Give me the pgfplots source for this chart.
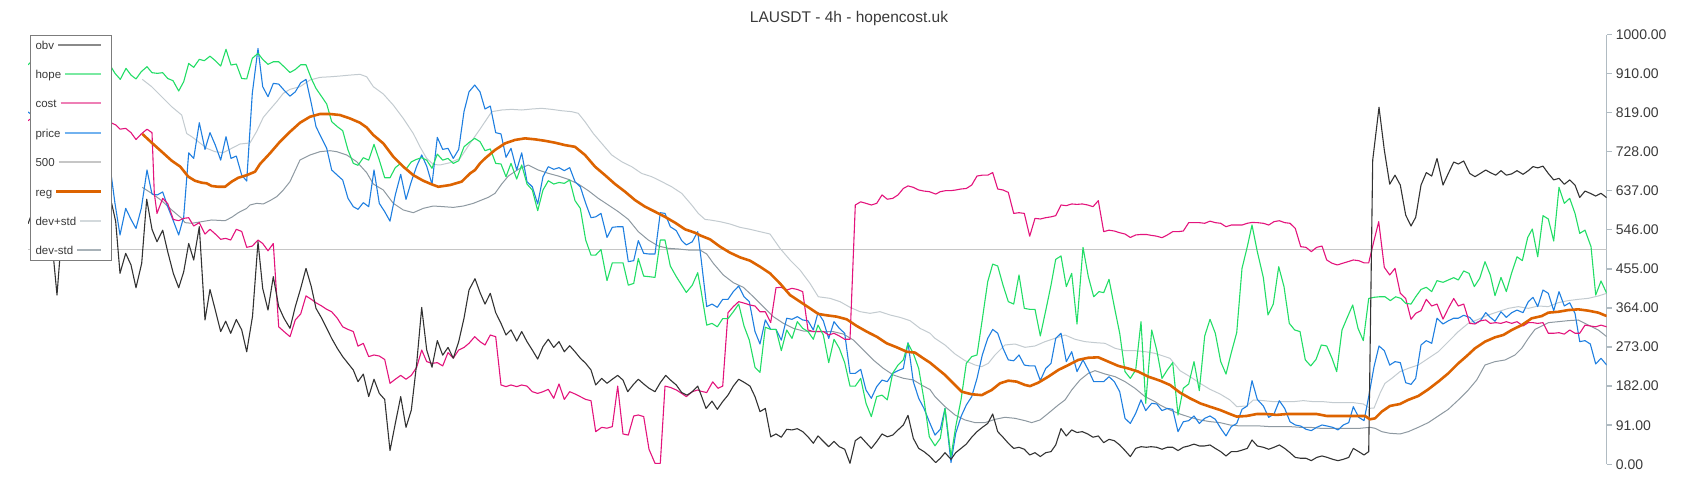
\documentclass[border=0pt]{standalone}
\usepackage{pgfplots}
\pgfplotsset{compat=1.18}
\usepackage{fontspec}
\setmainfont{Liberation Sans}
\definecolor{obvc}{HTML}{333333}
\definecolor{hopec}{HTML}{22DD66}
\definecolor{costc}{HTML}{E3147C}
\definecolor{pricec}{HTML}{1F7FE0}
\definecolor{regc}{HTML}{DD6300}
\definecolor{bandhi}{HTML}{C3CBD0}
\definecolor{bandlo}{HTML}{8E99A1}
\definecolor{fivec}{HTML}{C6C6C6}
\definecolor{obvL}{HTML}{8A8A8A}
\definecolor{hopeL}{HTML}{7AE9A2}
\definecolor{costL}{HTML}{EE7FB5}
\definecolor{priceL}{HTML}{72B2EF}
\definecolor{hiL}{HTML}{D3D9DC}
\definecolor{loL}{HTML}{A8B2B8}
\definecolor{axisc}{HTML}{B0BBC2}
\definecolor{textc}{HTML}{3A3A3A}
\definecolor{legbord}{HTML}{7C7C7C}
\newcommand\legrow[4]{\hbox to 71pt{#1\hskip 4pt{\color{#2}\leaders\hrule height #3 depth #4\hfill}\hskip 5.3pt}}
\begin{document}
\begin{tikzpicture}
\path (0pt,0pt) rectangle (1700pt,500pt);
\begin{axis}[
  at={(28pt,35.7pt)}, anchor=south west,
  width=1578.7pt, height=429.6pt, scale only axis,
  xmin=28, xmax=1606.7, ymin=0, ymax=1000,
  axis x line=none, xtick=\empty,
  axis y line*=right,
  ytick={0,91,182,273,364,455,546,637,728,819,910,1000},
  y axis line style={draw=axisc, line width=1.5pt},
  ytick style={draw=axisc, line width=1.5pt},
  tick align=outside, major tick length=5pt,
  scaled y ticks=false,
  yticklabel style={font=\fontsize{14}{16}\selectfont, text=textc, inner sep=0pt, anchor=west, xshift=4pt,
    /pgf/number format/fixed, /pgf/number format/fixed zerofill, /pgf/number format/precision=2,
    /pgf/number format/1000 sep={}, /pgf/number format/assume math mode=true},
  every axis plot/.append style={line join=round},
]
% 500 line
\addplot[fivec, line width=1.6pt] coordinates {(28,500) (1606.7,500)};
% dev+std
\addplot[bandhi, line width=1pt] coordinates {
(142.3,896) (151.7,879) (161.7,855.7) (171.7,832.4) (181.7,813) (186.7,770) (191.7,762.6) (198.3,751) (206.7,735.5) (215,727.7) (223.3,725.4) (231.7,735.5) (240,745.5) (250,748) (256.7,775) (263.3,807.6) (270,826) (276.7,844) (283.3,863.5) (290,872.8) (300,879) (310,894.5) (320,900.7) (330,902) (340,903.8) (350,906) (360,907.7) (366.7,902) (373.3,879) (383.3,862) (393.3,836) (403.3,805) (413.3,770) (420,739) (426.7,712) (433.3,698) (440,696.7) (450,702) (460,712) (470,747) (480,780) (491.7,820.8) (501.7,824.7) (511.7,826.2) (521.7,824.7) (531.7,827) (541.7,828.6) (551.7,826.2) (561.7,823) (571.7,820.8) (578.3,817) (585,797.5) (593.3,770) (601.7,747) (611.7,720) (621.7,704.4) (631.7,692.8) (641.7,677) (651.7,669.5) (661.7,658) (671.7,646) (681.7,630.7) (691.7,603.6) (698.3,584) (705,570) (710,568.7) (720,564.8) (730,559.3) (740,551.6) (750,547) (760,541.5) (770,536) (780,502.7) (790,475.6) (800,452.3) (810,421) (818.3,390) (830,386.3) (840,378.6) (850,365.4) (860,355.3) (870,351.4) (880,355.3) (890,347.6) (900,342) (910,334.4) (920,316.5) (930,305) (935,293.2) (945,277.7) (955,256.8) (965,241.3) (975,231.2) (981.7,227.3) (988.3,235) (995,254.5) (1005,277.7) (1015,280) (1025,272.3) (1035,275.4) (1045,285.5) (1055,293.2) (1065,301) (1075,291) (1085,285.5) (1095,283.2) (1105,281.6) (1115,270) (1125,264.5) (1135,264.5) (1145,262.2) (1155,258.3) (1160,254.5) (1170,246.7) (1180,218) (1190,204) (1200,188.5) (1210,174.5) (1220,163.7) (1230,149.7) (1236.7,134.2) (1246.7,135.8) (1253.3,149.7) (1263.3,148.2) (1273.3,145.8) (1283.3,145.8) (1293.3,145.8) (1303.3,148.2) (1313.3,145.8) (1323.3,145.8) (1333.3,143.5) (1343.3,143.5) (1353.3,143.5) (1363.3,140.4) (1370,130.3) (1374,131) (1380,165.2) (1385,188.5) (1391.7,200) (1400,215.7) (1408.3,223.4) (1418.3,231.2) (1428.3,246.7) (1438.3,262.2) (1448.3,285.5) (1458.3,308.8) (1468.3,328.2) (1478.3,337.5) (1488.3,347.6) (1498.3,355.3) (1508.3,363) (1518.3,367) (1528.3,363) (1538.3,368.5) (1548.3,367) (1558.3,376.3) (1568.3,381) (1578.3,384) (1588.3,386.3) (1598.3,391.8) (1606.7,398)};
% dev-std
\addplot[bandlo, line width=1pt] coordinates {
(142.3,644.7) (151.7,630.7) (161.7,613.7) (171.7,592) (181.7,572.5) (185,562.5) (191.7,561) (201.7,564.8) (211.7,568.7) (225,567) (231.7,574.9) (238.3,585.7) (246.7,595.8) (250,603.6) (256.7,607.4) (263.3,606) (270,613.7) (276.7,623) (283.3,638.5) (290,658) (300,708.3) (310,720) (320,727.7) (330,730) (336.7,727.7) (346.7,720) (356.7,704.4) (366.7,678.8) (373.3,652.4) (383.3,638.5) (393.3,607.4) (403.3,592) (413.3,585.7) (423.3,595.8) (433.3,601.2) (443.3,599.7) (453.3,598) (463.3,601.2) (473.3,607.4) (481.7,615.2) (488.3,621.4) (495,630.7) (501.7,652.4) (508.3,671) (518.3,686.6) (528.3,696.7) (538.3,685) (548.3,677.3) (558.3,671) (568.3,663.3) (578.3,652.4) (588.3,637) (598.3,619) (608.3,603.6) (618.3,588) (628.3,570.2) (638.3,541.5) (648.3,522) (658.3,508.1) (668.3,502.7) (678.3,501.2) (688.3,498.8) (700,498.8) (706.7,489.5) (713.3,467.8) (723.3,440.7) (733.3,422.8) (743.3,412) (753.3,390.2) (763.3,367) (773.3,343.7) (783.3,328.2) (793.3,316.5) (803.3,310.3) (813.3,308.8) (823.3,308.8) (833.3,308.8) (843.3,303.3) (853.3,289.4) (863.3,266.1) (873.3,242.8) (883.3,223.4) (893.3,207.9) (903.3,200.2) (913.3,196.3) (923.3,182.3) (930,174) (935,157.5) (945,134.2) (955,114.8) (965,103.2) (975,97) (985,97) (995,104.7) (1005,109.4) (1015,107) (1025,101.6) (1031.7,97) (1040,103.2) (1048.3,118.7) (1058.3,138.1) (1065,149.7) (1071.7,173) (1080,196.3) (1088.3,211.8) (1095,218) (1105,210.2) (1115,204) (1125,192.4) (1135,176.9) (1145,157.5) (1155,145.8) (1160,138.1) (1170,126.5) (1180,117.1) (1190,109.4) (1200,103.2) (1210,99.3) (1220,97) (1230,91.5) (1240,89.2) (1250,89.2) (1260,89.2) (1270,87.7) (1280,87.7) (1290,87.7) (1300,86.1) (1310,86.1) (1320,83.8) (1330,83.8) (1340,83.8) (1350,83.8) (1360,83.8) (1370,86.1) (1375,83.8) (1381.7,76) (1390,72.1) (1400,70.6) (1408.3,76) (1418.3,86.1) (1428.3,97) (1438.3,112.5) (1448.3,128) (1458.3,149.7) (1468.3,173) (1476.7,196.3) (1485,231.2) (1495,239) (1505,242.8) (1515,254.5) (1521.7,270) (1528.3,293.2) (1535,314.2) (1541.7,322) (1548.3,329.7) (1558.3,332) (1568.3,334.4) (1578.3,335.9) (1588.3,324.3) (1598.3,312.6) (1606.7,297.1)};
% price
\addplot[pricec, line width=1.1pt] coordinates {
(28,820) (33,812) (38,790) (43,800) (48,770) (53,780) (58,745) (63,760) (68,730) (73,745) (78,715) (83,735) (88,700) (93,720) (98,690) (103,705) (108,690) (111,677) (115,607) (120,533.8) (125.7,595.8) (131,570) (136,549) (141.3,595.8) (147,685) (152,629) (157.3,627) (162.7,634) (167.7,599.7) (173,568.7) (178.7,533.8) (183.7,576) (188.7,725) (193.7,712) (199.3,795) (205,733) (210,772) (215.3,743) (220.7,708) (226,762.6) (231,712) (236.3,717.6) (241.7,673) (246.7,659.4) (252.3,863.5) (258,968) (262.7,879) (268,855.7) (273.3,886.7) (278.7,885) (284,871) (290,857) (295.3,867) (300.7,888) (306,896) (311.3,840) (316,786) (321.7,758.7) (326.7,735.5) (331.7,685) (337.3,673) (342.7,661.7) (348,619) (353.3,599.7) (358,593.5) (363.3,609) (368.7,599.7) (374,685) (379.3,607.4) (384.7,588) (390,566) (395.3,627) (400.7,675) (406,616.7) (411.3,658) (416.7,694) (421.7,720) (426.7,694) (432,651.7) (437.3,761) (442.7,733) (448,735.5) (453.3,712) (458.7,733) (464,820.8) (469,867) (474.7,882.8) (480,867) (485,827) (490.3,834) (495.7,772) (501,769) (506,714.5) (511,735.5) (516.7,685) (521.7,725) (527,658) (532.3,646) (537.7,606) (543,669.5) (548.3,692.8) (553.7,686.6) (559,690.5) (564.3,683.5) (569.7,690.5) (575,658) (580.3,646) (585.7,607.4) (591,574) (595.7,576) (601,584) (607,528) (612.3,551.6) (617.7,553) (623,553) (628.3,471.7) (633.7,474) (638.3,520.6) (643.7,491) (649,489.5) (655,489.5) (660.3,585.7) (665,584) (670.3,553) (676.3,543.8) (681.7,520.6) (686.3,510.5) (692.3,518) (697.7,541.5) (701,480) (706.7,367) (712,373) (717.3,365.4) (722.7,384) (728,384) (733.3,401.9) (738.7,415) (744,390) (749.3,378.6) (755,309) (760,280) (765.3,336) (770.7,314) (776,314) (781.3,289) (786.7,340) (792,337.5) (797.3,343.7) (802.7,336) (808,334) (813.3,312.6) (818,353) (823.3,334) (828.7,293) (834,332) (839.3,316.5) (844.7,305) (850,211.7) (855.3,211.7) (860.7,221) (866,173) (871.3,153.6) (876.7,180.8) (882,196) (887.3,192.4) (892.7,211.7) (898,218) (903.3,223) (908,283) (913.3,192.4) (918.7,153.6) (924,130) (929.3,99) (935,68) (940.3,81.5) (945,130) (951,4) (955.7,72) (961,111) (966.3,138) (971.7,157.5) (977,200) (982.3,254.5) (987.7,293) (992.7,314) (997.7,305) (1003,270) (1008.3,243) (1013.7,241) (1019,254.5) (1024.3,231) (1029.7,229) (1035,229) (1040.3,195) (1045.7,223) (1051,235) (1055.7,293) (1061,305) (1066.3,239) (1071.7,262) (1077,215.7) (1083,243) (1088.3,219.5) (1093.7,192.4) (1099,192.4) (1103.7,192.4) (1109,204) (1114.3,192.4) (1119.7,169) (1125,107) (1130.3,95) (1135.7,118.7) (1141,150) (1145.7,125) (1151.7,142) (1156.7,140.4) (1162,125) (1167.3,130) (1172.7,128) (1178,76) (1183.3,99) (1188.7,101.6) (1194,112.5) (1199.3,95) (1204.7,107) (1210,112.5) (1215.3,104.7) (1220.7,83.8) (1226,66) (1231.3,87.7) (1236.7,95) (1242,128) (1247.3,135.8) (1252,194.7) (1257.3,151) (1263.3,135.8) (1268.7,109.4) (1274,117) (1279.3,148) (1284.7,130) (1290,99) (1295.3,91.5) (1300.7,89) (1306,81.5) (1311.3,78.4) (1316.7,86) (1322,91.5) (1327.3,89) (1332.7,86) (1338,80) (1343.3,91.5) (1348.7,97) (1353.3,134) (1358.7,109.4) (1364,101.6) (1368.7,157.5) (1374,227) (1379,275.4) (1384.3,264.5) (1389.7,231) (1395,239) (1400.3,236.6) (1405.7,190) (1411,186) (1415.7,200) (1421,277.7) (1426.3,287.8) (1431.7,281.6) (1437,340) (1443,326.6) (1448.3,334) (1453.7,340) (1458.3,340) (1463.7,346.8) (1469.7,342) (1475,328) (1480.3,334) (1485.7,353) (1490.3,342) (1495,333) (1501,355) (1506.3,342) (1511.7,353) (1517,359) (1523,353) (1528.3,378.6) (1533,388.7) (1537.7,367) (1543,405.7) (1548.3,398) (1553.7,357.6) (1559,401.9) (1564.3,368.5) (1569.7,376) (1575,351.4) (1579.7,285.5) (1585,287.8) (1590.3,280) (1595.7,233.5) (1601,246.7) (1606.7,231)};
% cost
\addplot[costc, line width=1.1pt] coordinates {
(28,800) (35,810) (40,795) (45,805) (50,790) (55,800) (60,785) (65,795) (70,780) (75,790) (80,785) (85,795) (90,780) (95,790) (100,785) (105,800) (111,795) (115.7,790) (120,780) (125.7,782) (131,772) (136,756) (141.3,769) (147,780) (152,772) (154.3,631) (157,584) (162.7,619) (167.7,607) (173.3,570) (178.7,567) (183.7,572.5) (188.7,574) (193.7,554.7) (199.3,562.5) (205,536) (210,547) (215.3,536) (220.7,523.7) (225.7,526) (230.7,522) (236.3,547) (241.7,542) (246.7,505) (252.3,508) (258,522) (262.7,514) (268,497) (273.3,514) (278.7,320) (284,309) (290,297) (295.3,336) (300.7,350) (306,392) (311.3,384) (316,376) (321.7,368.5) (326.7,360.7) (331.7,355) (337.3,340) (342.7,320) (348,314) (353.3,309) (358,275) (363.3,281.6) (368.7,250.6) (374,254.5) (379.3,252) (384.7,244) (390,188.5) (395.3,198) (400.7,207) (406,198) (411.3,207) (416.7,226) (421.7,266) (426.7,239) (432,235) (437.3,236.6) (442.7,229) (448,260) (453.3,247) (458.7,266) (464,272) (469,281.6) (474.7,297) (480,285.5) (485,277.7) (490.3,301) (495.7,297) (501,184.6) (506,180.8) (511,184.6) (516.7,180.8) (521.7,184.6) (527,182) (532.3,169) (537.7,165) (543,169) (548.3,174.5) (553.7,153.6) (559,187) (564.3,151) (569.7,169) (575,163.7) (580.3,157.5) (585.7,151) (591,148) (595.7,76) (601.7,86) (607,84) (612.3,87.7) (617.7,182) (623,70.6) (628.3,68) (633.7,112.5) (638.3,114.8) (643.7,111) (649,35) (655,2.3) (660.3,2.3) (665,182) (670.3,179) (676.3,173) (681.7,165) (686.3,157.5) (692.3,169) (697.7,173) (701,170) (706.7,167) (712.7,192) (718,177) (722.7,182) (728,353) (733.3,367) (738.7,378.6) (744.7,374.7) (750,370.8) (755,368.5) (760,355) (765.3,355) (770.7,330) (776,411) (781.3,412) (786.7,405.7) (792,409.6) (797.3,407) (802.7,401.9) (808,312.6) (813.3,309) (818,309) (823.3,309) (828.7,301) (834,305) (839.3,298.7) (844.7,291) (850,291) (855.3,603.6) (860.7,611) (866,607.4) (871.3,603.6) (876.7,607.4) (882,627) (887.3,617) (892.7,619) (898,627) (903.3,642) (908,648) (913.3,644.7) (918.7,638.5) (924,636) (929.3,634.6) (935.7,629) (940.3,634.6) (945.7,637) (951,637) (955.7,638.5) (961,640.8) (966.3,642) (971.7,650) (977,671) (982.3,673) (987.7,673) (992.7,679) (997.7,640.8) (1003,638.5) (1008.3,633) (1013.7,584) (1019,585.7) (1024.3,584) (1029.7,531) (1035,572.5) (1040.3,571) (1045.7,574) (1051,576) (1055.7,578.7) (1061,603.6) (1066.3,602) (1071.7,606) (1077,605) (1082.3,606) (1087.7,603.6) (1093,599.7) (1098.3,613.7) (1103.7,541.5) (1109,545) (1114.3,543) (1119.7,539) (1125,536) (1130.3,528) (1135.7,533.8) (1141,535) (1146.3,535) (1151,533) (1156.7,531) (1162,527.5) (1167.3,533.8) (1172.7,541.5) (1178,541.5) (1183.3,543) (1188.7,562.5) (1194,562.5) (1199.3,562.5) (1204.7,561) (1210,566) (1215.3,562.5) (1220.7,561) (1226,553) (1231.3,557) (1236.7,557) (1242,557) (1247.3,561) (1252,563) (1257.3,562.5) (1263.3,561) (1268.7,557) (1274,564.8) (1279.3,567) (1284.7,562.5) (1290,561) (1295.3,549) (1300.7,506.6) (1306,505) (1311.3,495) (1316.7,505) (1322,508) (1326.7,475.6) (1332,468) (1337.3,464) (1342.7,468) (1348,471.7) (1353.3,475.6) (1358.7,474) (1364,469) (1368.7,469) (1373.3,514) (1378.7,564.8) (1384.3,458.5) (1389.7,440.7) (1395,456) (1400.3,398) (1405.7,386) (1411,337.5) (1415.7,351.4) (1421,357.6) (1426.3,384) (1431.7,368.5) (1437,373) (1443,338) (1448.3,363) (1453.7,386) (1458.3,368.5) (1463.7,373) (1469.7,328) (1475,326.6) (1480.3,334) (1485.7,336) (1490.3,328) (1495.7,329.7) (1501,328) (1506.3,332) (1511.7,328) (1517,332) (1523,322) (1528.3,329.7) (1533,329.7) (1537.7,328) (1543,329.7) (1548.3,305) (1553.7,305) (1559,306.4) (1564.3,303) (1569.7,312.6) (1575,305) (1579.7,305) (1585,324) (1590.3,322) (1595.7,320) (1601,324) (1606.7,320)};
% hope
\addplot[hopec, line width=1.1pt] coordinates {
(28,930) (35,945) (40,925) (45,940) (50,915) (55,930) (60,910) (65,925) (70,940) (75,920) (80,935) (85,915) (90,930) (95,920) (100,940) (105,930) (111,925.5) (115,910) (120.3,896) (126,921.6) (131,906) (136,897) (141.3,914) (147,925.5) (152,911.6) (157.3,910) (162.7,911.6) (167.7,898) (173,893) (178.7,869) (183.7,890.6) (188.7,933) (193.7,924) (199.3,942.6) (204.3,939.5) (210,950) (215.3,939.5) (220.7,927) (226,966) (231,929.4) (236.3,931.7) (241.7,898) (246.7,897) (252.3,945) (258,956.6) (262.7,942.6) (268,931) (273.3,937) (278.7,937) (284,925.5) (290,912) (295.3,919) (300.7,930) (306,930) (311.3,898) (316,875) (321.7,855.7) (326.7,838.6) (331.7,797.5) (337.3,786) (342.7,776.6) (348,731.6) (353.3,700.5) (358,696) (363.3,713.7) (368.7,708) (374,744.8) (379.3,708) (384.7,667) (390,667) (395.3,690.5) (400.7,700.5) (406,687) (411.3,704) (416.7,710) (421.7,713.7) (426.7,708) (432,689) (437.3,722) (442.7,708) (448,712) (453.3,700.5) (458.7,706.7) (464,739) (469,749) (474.7,758.7) (480,751) (485,730) (490.3,734) (495.7,700.5) (501,699) (506,669.5) (511,700.5) (516.7,664) (521.7,696.7) (527,652.4) (532.3,638.5) (537.7,590.4) (543,638.5) (548.3,660) (553.7,652.4) (559,656) (564.3,654) (569.7,661.7) (575,613.7) (580.3,595.8) (585.7,522) (591,487) (595.7,487) (601,500) (607,427.5) (612.3,469) (617.7,469) (623,469) (628.3,417) (633.7,421) (638.3,479) (643.7,438) (649,436.8) (655,435) (660.3,522) (665,522) (670.3,461.6) (676.3,436.8) (681.7,417) (686.3,400) (692.3,417) (697.7,446) (701,405) (706.7,324) (712,328) (717.3,320) (722.7,339) (728,339) (733.3,355) (738.7,373) (744,322) (749.3,289) (755,225.8) (760,214) (765.3,319) (770.7,314) (776,314) (781.3,264.5) (786.7,312.6) (792,293) (797.3,332) (802.7,316.5) (808,309) (813.3,291) (818,324) (823.3,301) (828.7,236.6) (834,291) (839.3,270) (844.7,236.6) (850,182) (855.3,182) (860.7,200) (866,142) (871.3,111) (876.7,157.5) (882,161) (887.3,150) (892.7,212) (898,231) (903.3,243) (908,281.6) (913.3,258) (918.7,223) (924,150) (929.3,64) (935,43) (940.3,60.5) (945,130) (951,18) (955.7,87.7) (961,150) (966.3,235) (971.7,250.6) (977,254.5) (982.3,337.5) (987.7,425) (992.7,466) (997.7,461.6) (1003,417) (1008.3,378.6) (1013.7,373) (1019,440.7) (1024.3,363) (1029.7,360.7) (1035,360.7) (1040.3,298.7) (1045.7,357.6) (1051,417) (1055.7,477) (1061,485) (1066.3,413.5) (1071.7,444.5) (1077,326.6) (1083,505) (1088.3,436.8) (1093.7,390) (1099,401.9) (1103.7,399.5) (1109,430.6) (1114.3,367) (1119.7,305) (1125,215.7) (1130.3,200) (1135.7,219.5) (1141,332) (1145.7,142) (1151.7,312.6) (1156.7,266) (1162,200) (1167.3,219.5) (1172.7,236.6) (1178,114.8) (1183.3,177) (1188.7,187) (1194,239) (1199.3,171.4) (1204.7,298.7) (1210,337.5) (1215.3,305) (1220.7,239) (1226,210) (1231.3,260) (1236.7,306.4) (1242,456) (1247.3,506.6) (1252,557) (1257.3,495) (1263.3,435) (1268,347.6) (1273.3,373) (1278.7,460) (1284,413.5) (1289.3,328) (1294.7,312.6) (1300,309) (1305.3,243) (1310.7,229) (1316,244) (1321.3,277.7) (1326.7,275.4) (1332,246.7) (1336.7,215.7) (1342,312.6) (1347.3,342) (1352.7,370.8) (1358,316.5) (1363.3,287.8) (1368.7,386) (1374,388.7) (1379.7,390) (1385,390) (1390.3,381) (1395.7,390) (1401,386) (1405.7,374.7) (1411,373) (1415.7,390) (1421,407) (1426.3,412) (1431.7,402) (1437,427.5) (1443,423.6) (1448.3,429) (1453.7,434.4) (1458.3,429) (1463.7,450) (1469,444.5) (1474.3,413.5) (1479.7,433) (1485,471.7) (1490.3,440.7) (1495,392.5) (1501,435) (1506.3,402) (1511.7,446) (1517,483) (1522.3,474) (1527.7,528) (1532.3,547.7) (1537.7,483) (1543,578.7) (1548.3,571) (1553.7,519.8) (1559,644.7) (1564.3,607.4) (1569.7,619) (1575,584) (1579.7,537.6) (1585,545) (1591,506.6) (1595.7,394) (1601,426.7) (1606.7,398)};
% obv
\addplot[obvc, line width=1.1pt] coordinates {
(28,560) (33,590) (38,545) (43,580) (48,520) (53.7,475.6) (57,394) (59.7,475.6) (65,560) (70,600) (75,540) (80,620) (85,570) (90,640) (95,590) (100,620) (105,580) (111.7,607) (115.7,565) (120,444.5) (125.7,491) (131,464) (136,411) (141.7,468) (146.7,617) (152,547) (157,518) (162.7,545) (167.7,495) (173.3,444.5) (178.7,411) (183.7,448) (188.7,514) (193.7,475.6) (199.3,553) (205,336) (210,407) (215.3,359) (220.7,309) (225.7,333) (230.7,305) (236.3,337) (241.7,313) (246.7,262) (252.5,344) (258,518) (262.7,409.6) (268,359) (273.3,436.8) (278.7,367) (284,340) (290,316.5) (295.3,367) (300.7,409.6) (306,456) (311.3,413.5) (316,363) (321.7,340) (326.7,316.5) (331.7,293) (337.3,270) (342.7,250.6) (348,235) (353.3,219.5) (358,192.4) (363.3,210) (368.7,157.6) (374,198) (379.3,165) (384.7,151) (390,32) (395.3,95) (400.7,157.6) (406,86) (411.3,126) (416.7,235) (421.7,365) (426.7,266) (432,226) (437.3,288) (442.7,254) (448,272) (453.3,247) (458.7,285.5) (464,340) (469,405.7) (475,432) (480,400) (485,373) (490.3,398) (495.7,353) (501,328) (506,301) (511,313) (516.7,287) (521.7,309) (527,285.5) (532.3,266) (537.7,245) (543,274) (548.3,291) (553.7,272) (559,285.5) (564.3,262) (569.7,276) (575,262) (580.3,247) (585.7,235) (591,219.5) (595.7,184.6) (601.7,200) (607,188.5) (612.3,198) (617.7,207) (623,196) (627.7,169) (633,184.6) (638.3,198) (643.7,187) (649,177) (655,169) (660.3,190) (665.7,207) (671,195) (676.3,184.6) (681.7,167) (687,161) (692.3,169) (697.7,182) (701,162) (706,130) (712,147) (717.3,128) (722.7,146) (728,161) (733.3,182) (738.7,198) (744.7,190) (750,182) (755,157.5) (760,122.6) (765.3,130) (770.7,64) (776,70.6) (781.3,63) (786.7,81.5) (792,80) (797.3,83) (802.7,76) (808,64) (813.3,49) (818,66) (823.3,53.5) (828.7,41) (834,53.5) (839.3,41) (844.7,35) (850,2.3) (855.3,55) (860.7,64) (866,50.4) (871.3,37) (876.7,53) (882,70.6) (887.3,64) (892.7,68) (898,80) (903.3,91.5) (908,114) (913.3,60.5) (918.7,37) (924,29.5) (929.3,19.4) (935.7,4) (940.3,14) (945,27) (951,11.6) (955.7,27) (961,37) (966.3,47) (971.7,63) (977,76) (982.3,86) (987.7,95) (992.7,117) (997.7,76) (1003,63) (1008.3,49) (1013.7,37) (1019,39.6) (1024.3,35) (1029.7,21.7) (1035,27) (1040.3,18) (1045.7,27) (1051,29.5) (1055.7,45) (1061,83) (1066.3,66) (1071.7,80) (1077,74) (1082.3,76) (1087.7,70.6) (1093,63) (1098.3,66) (1103.7,50.4) (1109,58) (1114.3,55) (1119.7,45) (1125,32) (1130.3,18) (1135.7,37) (1141,41) (1146.3,39.6) (1151,41) (1156.7,39.6) (1162,35) (1167.3,39.6) (1172.7,39.6) (1178,32) (1183.3,39.6) (1188.7,42.7) (1194,47) (1199.3,42.7) (1204.7,42.7) (1210,45) (1215.3,37) (1220.7,29.5) (1226,19.4) (1231.3,29.5) (1236.7,29.5) (1242,33) (1247.3,37) (1252,56.6) (1257.3,42.7) (1263.3,39.6) (1268.7,35) (1274,39.6) (1279.3,45) (1284.7,37) (1290,27) (1295.3,16) (1300.7,14) (1306,14) (1311.3,8.5) (1316.7,16) (1322,19.4) (1327.3,16) (1332.7,11.6) (1338,8.5) (1343.3,11.6) (1348.7,16) (1353.3,37) (1358.7,29.5) (1364,21.7) (1368.7,29.5) (1372.7,708) (1379,831) (1384.3,731.6) (1389.7,652) (1395,673) (1400.3,650) (1405.7,580) (1411,554.7) (1415.7,575) (1421,650) (1426.3,679) (1431.7,671) (1437,712) (1443,650) (1448.3,677) (1453.7,703.6) (1458.3,699) (1463.7,706) (1469.7,677) (1475,669.5) (1480.3,677) (1485.7,685) (1490.3,679) (1495.7,673) (1501,683.5) (1506.3,673) (1511.7,676) (1517,683.5) (1523,675) (1528.3,683.5) (1533,693) (1537.7,690) (1543,694) (1548.3,677) (1553.7,662) (1559,665.6) (1564.3,651.7) (1569.7,662) (1575,650) (1579.7,621) (1585,636) (1590.3,630.7) (1595.7,624.5) (1601,630.7) (1606.7,620.6)};
% reg
\addplot[regc, line width=2.6pt] coordinates {
(142.3,769) (151.7,748.6) (161.7,727.7) (171.7,706.7) (180.3,692.8) (188.3,669.5) (195,660) (201.7,655.5) (206.7,654) (211.7,647.8) (218.3,646) (225,646) (231.7,658) (238.3,667) (246.7,673) (255,681) (260,699) (270,724) (280,751) (290,774) (300,795) (310,809) (320,815.4) (330,815.4) (340,813) (350,805) (360,795) (366.7,784) (373.3,766.5) (383.3,747) (393.3,716) (403.3,692.8) (413.3,673) (423.3,660) (431.7,651.7) (438.3,646) (450,650) (461.7,658) (470,677) (475,685) (480,700.5) (485,712) (495,731.6) (505,747) (515,755) (525,758.7) (535,756.4) (545,753) (555,748.6) (565,743) (575,739) (585,720) (595,692.8) (605,673) (615,652.4) (625,634.6) (635,615) (645,599.7) (655,588) (665,576) (675,562.5) (685,547) (695,539) (700,533) (710,523.7) (720,506.6) (730,492.6) (740,481.8) (750,474) (760,460) (770,444.5) (780,421) (790,394) (800,378.6) (810,363) (818.3,350) (826.7,346.8) (836.7,343.7) (846.7,337.5) (856.7,322) (866.7,308.8) (876.7,297) (886.7,281.6) (896.7,272.3) (906.7,262) (915,260) (923.3,246.7) (930,236.6) (935,227) (945,208) (955,184.6) (961.7,169) (971.7,163) (981.7,161) (991.7,173) (1000,188.5) (1008.3,194.7) (1016.7,192.4) (1025,184.6) (1030,182) (1038.3,190) (1048.3,204) (1058.3,219.5) (1068.3,231) (1078.3,243) (1088.3,248) (1098.3,249) (1108.3,239) (1118.3,229) (1128.3,223) (1138.3,215.7) (1148.3,204) (1160,194.7) (1170,184.6) (1180,166.8) (1190,153.6) (1200,142) (1210,134) (1220,126.5) (1230,117) (1236.7,111) (1246.7,112.5) (1256.7,117) (1266.7,117) (1276.7,115) (1286.7,117) (1296.7,117) (1306.7,117) (1316.7,117) (1326.7,112.5) (1336.7,112.5) (1346.7,112.5) (1356.7,112.5) (1365,112.5) (1370,104.7) (1375,107) (1381.7,122.6) (1390,135.8) (1400,140.4) (1408.3,150) (1418.3,159) (1428.3,174.5) (1438.3,192.4) (1448.3,211.8) (1458.3,235) (1466.7,252) (1475,270) (1485,285.5) (1495,295.6) (1503.3,301) (1511.7,312.6) (1521.7,324) (1531.7,339.8) (1541.7,345) (1548.3,353) (1558.3,355) (1568.3,359) (1578.3,360.7) (1588.3,357.6) (1598.3,353) (1606.7,345)};
\end{axis}
\node[font=\fontsize{15.5}{18}\selectfont, text=textc] at (849pt,481.6pt) {LAUSDT - 4h - hopencost.uk};
\node[draw=legbord, line width=1.2pt, fill=white, anchor=north west, inner xsep=5pt, inner ysep=5.5pt, font=\fontsize{11.5}{13}\selectfont, text=textc] at (30pt,465.3pt) {\vbox{\baselineskip=29.4pt\lineskiplimit=-20pt
\legrow{obv}{obvL}{5.5pt}{-3.5pt}
\legrow{hope}{hopeL}{5.5pt}{-3.5pt}
\legrow{cost}{costL}{5.5pt}{-3.5pt}
\legrow{price}{priceL}{5.5pt}{-3.5pt}
\legrow{500}{fivec}{5.5pt}{-3.5pt}
\legrow{reg}{regc}{6pt}{-3pt}
\legrow{dev+std}{hiL}{5.5pt}{-3.5pt}
\legrow{dev-std}{loL}{5.5pt}{-3.5pt}}};
\end{tikzpicture}
\end{document}
